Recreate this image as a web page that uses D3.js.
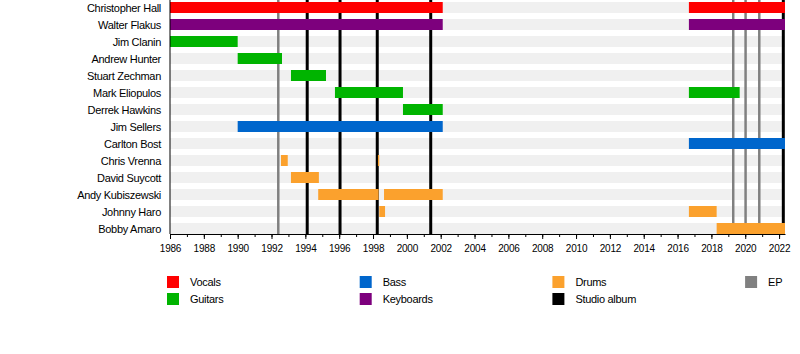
<!DOCTYPE html>
<html>
<head>
<meta charset="utf-8">
<script src="https://cdn.jsdelivr.net/npm/d3@7"></script>
<style>
    body { margin: 0; background: #fff; }
    svg { display: block; font-family: "Liberation Sans", Arial, sans-serif; }
</style>
</head>
<body>
<svg id="timeline" width="800" height="354"></svg>
<script>
// band members, top to bottom
const members = ['Christopher Hall', 'Walter Flakus', 'Jim Clanin', 'Andrew Hunter', 'Stuart Zechman',
    'Mark Eliopulos', 'Derrek Hawkins', 'Jim Sellers', 'Carlton Bost', 'Chris Vrenna', 'David Suycott',
    'Andy Kubiszewski', 'Johnny Haro', 'Bobby Amaro'];

const roles = ['Vocals', 'Guitars', 'Bass', 'Keyboards', 'Drums', 'Studio album', 'EP'];
const roleColors = ['#ff0000', '#00b400', '#0066cc', '#7d007d', '#fba12d', '#000000', '#808080'];

const END = 2022.35;

// [member, role, from, till]
const periods = [
    ['Christopher Hall', 'Vocals', 1986, 2002.12],
    ['Christopher Hall', 'Vocals', 2016.67, END],
    ['Walter Flakus', 'Keyboards', 1986, 2002.12],
    ['Walter Flakus', 'Keyboards', 2016.67, END],
    ['Jim Clanin', 'Guitars', 1986, 1990.0],
    ['Andrew Hunter', 'Guitars', 1990.0, 1992.62],
    ['Stuart Zechman', 'Guitars', 1993.15, 1995.22],
    ['Mark Eliopulos', 'Guitars', 1995.75, 1999.77],
    ['Mark Eliopulos', 'Guitars', 2016.67, 2019.67],
    ['Derrek Hawkins', 'Guitars', 1999.77, 2002.12],
    ['Jim Sellers', 'Bass', 1990.0, 2002.12],
    ['Carlton Bost', 'Bass', 2016.67, END],
    ['Chris Vrenna', 'Drums', 1992.56, 1992.96],
    ['Chris Vrenna', 'Drums', 1998.29, 1998.37],
    ['David Suycott', 'Drums', 1993.15, 1994.8],
    ['Andy Kubiszewski', 'Drums', 1994.76, 1998.33],
    ['Andy Kubiszewski', 'Drums', 1998.65, 2002.12],
    ['Johnny Haro', 'Drums', 1998.37, 1998.71],
    ['Johnny Haro', 'Drums', 2016.67, 2018.31],
    ['Bobby Amaro', 'Drums', 2018.31, END]
];

// release dates
const epDates = [1992.4, 2019.29, 2020.02, 2020.83];
const albumDates = [1994.11, 1996.05, 1998.25, 2001.41, 2022.25];

const tickYears = d3.range(1986, 2023);
const labelYears = d3.range(1986, 2023, 2);

// legend layout: columns left to right
const legendColumns = [['Vocals', 'Guitars'], ['Bass', 'Keyboards'], ['Drums', 'Studio album'], ['EP']];

const MARGIN = {top: 0, left: 170, right: 785, bottom: 234};
const BAR_H = 11;

const svg = d3.select('#timeline');
const color = d3.scaleOrdinal().domain(roles).range(roleColors);

const xScale = d3.scaleLinear()
    .domain([1986, END])
    .range([MARGIN.left, MARGIN.right]);

const yScale = d3.scalePoint()
    .domain(members)
    .range([7.5, 228.5]);

// light background bar for every row
svg.append('g').selectAll('rect')
    .data(members)
    .join('rect')
    .attr('x', xScale(1986))
    .attr('width', xScale(END) - xScale(1986))
    .attr('y', d => yScale(d) - BAR_H / 2)
    .attr('height', BAR_H)
    .attr('fill', '#f0f0f0');

// release lines (behind the member bars)
svg.append('g').selectAll('line')
    .data(epDates.map(d => ({date: d, type: 'EP'})).concat(albumDates.map(d => ({date: d, type: 'Studio album'}))))
    .join('line')
    .attr('x1', d => xScale(d.date))
    .attr('x2', d => xScale(d.date))
    .attr('y1', MARGIN.top)
    .attr('y2', MARGIN.bottom)
    .attr('stroke', d => color(d.type))
    .attr('stroke-width', d => d.type === 'EP' ? 2.5 : 3);

// member bars
svg.append('g').selectAll('rect')
    .data(periods)
    .join('rect')
    .attr('x', d => xScale(d[2]))
    .attr('width', d => xScale(d[3]) - xScale(d[2]))
    .attr('y', d => yScale(d[0]) - BAR_H / 2)
    .attr('height', BAR_H)
    .attr('fill', d => color(d[1]));

// member names
svg.append('g').selectAll('text')
    .data(members)
    .join('text')
    .attr('x', 161)
    .attr('y', d => yScale(d) + 4)
    .attr('text-anchor', 'end')
    .attr('font-size', 11)
    .attr('letter-spacing', -0.3)
    .attr('fill', '#000')
    .text(d => d);

// left edge line
svg.append('line')
    .attr('x1', MARGIN.left).attr('x2', MARGIN.left)
    .attr('y1', MARGIN.top).attr('y2', MARGIN.bottom)
    .attr('stroke', '#000');

// time axis: minor ticks every year, labelled every two years
const xAxisMinor = d3.axisBottom(xScale)
    .tickValues(tickYears)
    .tickSize(3)
    .tickFormat('');
svg.append('g')
    .attr('transform', `translate(0, ${MARGIN.bottom})`)
    .call(xAxisMinor)
    .call(g => g.select('.domain').remove());

const xAxis = d3.axisBottom(xScale)
    .tickValues(labelYears)
    .tickSize(5)
    .tickPadding(6)
    .tickSizeOuter(0)
    .tickFormat(d3.format('d'));
svg.append('g')
    .attr('transform', `translate(0, ${MARGIN.bottom})`)
    .call(xAxis)
    .call(g => g.selectAll('text')
        .attr('font-size', 10)
        .attr('letter-spacing', -0.2)
        .attr('font-family', '"Liberation Sans", Arial, sans-serif')
        .attr('fill', '#000'));

// legend
const legendItems = [];
legendColumns.forEach((col, ci) => col.forEach((name, ri) => legendItems.push({name, ci, ri})));

const legend = svg.append('g').selectAll('g')
    .data(legendItems)
    .join('g')
    .attr('transform', d => `translate(${167 + d.ci * 192.7}, ${276 + d.ri * 17})`);

legend.append('rect')
    .attr('width', 12)
    .attr('height', 12)
    .attr('fill', d => color(d.name));

legend.append('text')
    .attr('x', 23)
    .attr('y', 10)
    .attr('font-size', 11)
    .attr('letter-spacing', -0.3)
    .text(d => d.name);
</script>
</body>
</html>
